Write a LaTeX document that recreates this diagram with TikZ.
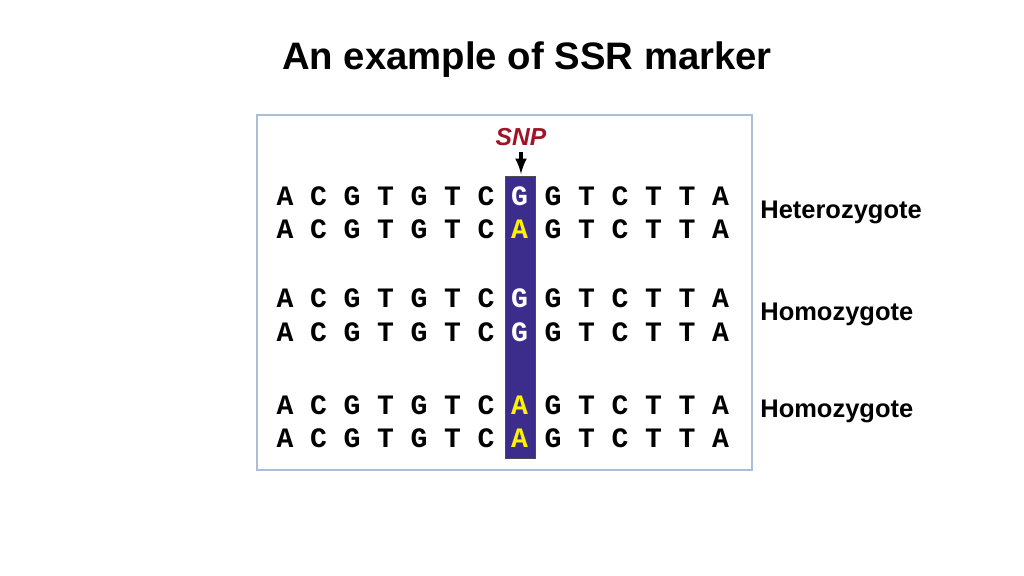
\documentclass[tikz,border=0pt]{standalone}
\usepackage{fontspec}
\setmainfont{Liberation Sans}
\newfontfamily\basefont{Liberation Mono}
\usepackage{xcolor}
\usetikzlibrary{positioning}
\definecolor{snpbar}{RGB}{60,45,140}
\definecolor{snpred}{RGB}{160,20,40}
\definecolor{framecol}{RGB}{170,190,215}

\begin{document}
\begin{tikzpicture}[
    x=0.02cm, y=-0.02cm,
    base/.style={font=\basefont\bfseries\fontsize{16}{16}\selectfont, inner sep=0pt},
    snpG/.style={base, text=white},
    snpA/.style={base, text=yellow},
    label/.style={font=\bfseries\fontsize{14.5}{16}\selectfont, anchor=west, inner sep=0pt},
    arrow/.style={-latex, line width=2pt},
]
\useasboundingbox (0,0) rectangle (1024,575);

% === TITLE ===
\node[font=\bfseries\fontsize{21.8}{26}\selectfont] (title) at (527, 60) {An example of SSR marker};

% Frame and SNP bar
\draw[framecol, line width=0.6pt] (257, 115) rectangle (752, 470);
\fill[snpbar] (505, 176) rectangle (535, 458);
\draw[black!70, line width=0.4pt] (505, 176) rectangle (535, 458);

% SNP label
\node[font=\bfseries\itshape\fontsize{14}{14}\selectfont, text=snpred] (snp) at (521, 137) {SNP};
\coordinate (snptip) at (521, 174);
\draw[arrow] (snp.south) -- (snptip);

% === SEQUENCES ===
\foreach \row/\y/\mid in {1/196/G, 2/229/A, 3/298/G, 4/332/G, 5/405/A, 6/438/A} {
    \foreach \ch [count=\i] in {A,C,G,T,G,T,C,X,G,T,C,T,T,A} {
        \ifnum\i=8
            \node[snp\mid] (s\row-\i) at ({285+33.5*(\i-1)}, \y) {\mid};
        \else
            \node[base] (s\row-\i) at ({285+33.5*(\i-1)}, \y) {\ch};
        \fi
    }
}

% Genotype labels
\node[label] (het) at (760, 212) {Heterozygote};
\node[label] (hom1) at (760, 314) {Homozygote};
\node[label] (hom2) at (760, 411) {Homozygote};

\end{tikzpicture}
\end{document}
